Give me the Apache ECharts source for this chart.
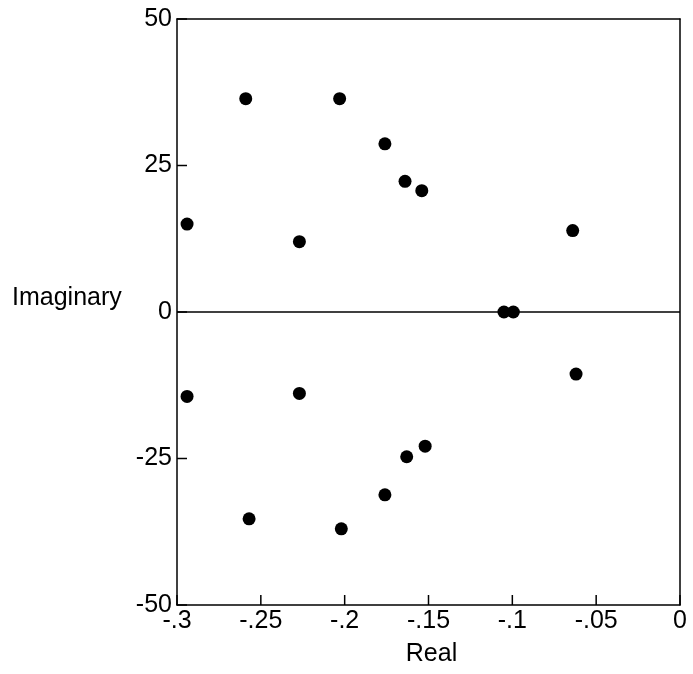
<!DOCTYPE html>
<html>
<head>
<meta charset="utf-8">
<script src="https://cdn.jsdelivr.net/npm/echarts@6/dist/echarts.min.js"></script>
<style>
html,body{margin:0;padding:0;background:#fff;}
#c{width:693px;height:674px;}
</style>
</head>
<body>
<div id="c"></div>
<script>
// Data
var realParts = [-0.294, -0.259, -0.227, -0.203, -0.176, -0.164, -0.154, -0.064,
                 -0.105, -0.0994,
                 -0.294, -0.257, -0.227, -0.202, -0.176, -0.163, -0.152, -0.062];
var imagParts = [15.0, 36.4, 12.0, 36.4, 28.7, 22.3, 20.7, 13.9,
                 0, 0,
                 -14.4, -35.3, -13.9, -37.0, -31.2, -24.7, -22.9, -10.6];
var xTicks = [-0.3, -0.25, -0.2, -0.15, -0.1, -0.05, 0];
var xTickLabels = ['-.3', '-.25', '-.2', '-.15', '-.1', '-.05', '0'];
var yTicks = [-50, -25, 0, 25, 50];
var yTickLabels = ['-50', '-25', '0', '25', '50'];

var points = realParts.map(function (r, i) { return [r, imagParts[i]]; });
var FONT = '"Liberation Sans", Arial, Helvetica, sans-serif';
var X_MIN = xTicks[0], Y_MIN = yTicks[0];

// inward tick marks, positioned through the library's own scales
var tickData = xTicks.map(function (v) { return [v, Y_MIN, 0]; })
  .concat(yTicks.map(function (v) { return [X_MIN, v, 1]; }));

function xLabel(v) {
  for (var i = 0; i < xTicks.length; i++) {
    if (Math.abs(xTicks[i] - v) < 1e-9) return xTickLabels[i];
  }
  return '';
}
function yLabel(v) {
  for (var i = 0; i < yTicks.length; i++) {
    if (Math.abs(yTicks[i] - v) < 1e-9) return yTickLabels[i];
  }
  return '';
}

var chart = echarts.init(document.getElementById('c'), null, {renderer: 'canvas'});
chart.setOption({
  backgroundColor: '#fff',
  animation: false,
  grid: {
    left: 177, right: 13, top: 19, bottom: 69, containLabel: false
  },
  xAxis: [{
    type: 'value',
    min: -0.3, max: 0, interval: 0.05,
    position: 'bottom',
    name: 'Real',
    nameLocation: 'middle',
    nameGap: 37,
    nameTextStyle: {fontFamily: FONT, fontSize: 25, color: '#000', padding: [0, 0, 0, 6]},
    axisLine: {show: true, onZero: false, lineStyle: {color: '#000', width: 1.5}},
    axisTick: {show: false},
    axisLabel: {
      fontFamily: FONT, fontSize: 25, color: '#000', margin: 4,
      formatter: xLabel
    },
    splitLine: {show: false}
  }, {
    type: 'value',
    min: -0.3, max: 0, interval: 0.05,
    position: 'top',
    axisLine: {show: true, onZero: false, lineStyle: {color: '#000', width: 1.5}},
    axisTick: {show: false},
    axisLabel: {show: false},
    splitLine: {show: false}
  }],
  yAxis: [{
    type: 'value',
    min: -50, max: 50, interval: 25,
    position: 'left',
    axisLine: {show: true, onZero: false, lineStyle: {color: '#000', width: 1.5}},
    axisTick: {show: false},
    axisLabel: {
      fontFamily: FONT, fontSize: 25, color: '#000', margin: 5,
      formatter: yLabel
    },
    splitLine: {show: false}
  }, {
    type: 'value',
    min: -50, max: 50, interval: 25,
    position: 'right',
    axisLine: {show: true, onZero: false, lineStyle: {color: '#000', width: 1.5}},
    axisTick: {show: false},
    axisLabel: {show: false},
    splitLine: {show: false}
  }],
  graphic: [{
    type: 'text',
    left: 12,
    top: 286,
    style: {text: 'Imaginary', font: '25px ' + FONT, fill: '#000'}
  }],
  series: [{
    type: 'scatter',
    xAxisIndex: 0,
    yAxisIndex: 0,
    data: points,
    symbol: 'circle',
    symbolSize: 13,
    itemStyle: {color: '#000', opacity: 1},
    markLine: {
      silent: true,
      symbol: ['none', 'none'],
      label: {show: false},
      lineStyle: {color: '#000', width: 1.5, type: 'solid', opacity: 1},
      data: [{yAxis: 0}]
    }
  }, {
    type: 'custom',
    xAxisIndex: 0,
    yAxisIndex: 0,
    silent: true,
    clip: false,
    data: tickData,
    renderItem: function (params, api) {
      var p = api.coord([api.value(0), api.value(1)]);
      var vertical = api.value(2) === 0;
      var len = 10;
      return {
        type: 'line',
        shape: vertical
          ? {x1: p[0], y1: p[1], x2: p[0], y2: p[1] - len}
          : {x1: p[0], y1: p[1], x2: p[0] + len, y2: p[1]},
        style: {stroke: '#000', lineWidth: 1.5}
      };
    }
  }]
});
</script>
</body>
</html>
